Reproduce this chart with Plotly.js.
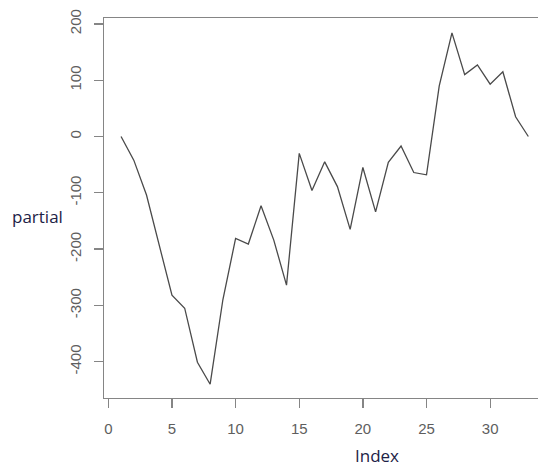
<!DOCTYPE html>
<html>
<head>
<meta charset="utf-8">
<script src="https://cdn.plot.ly/plotly-3.0.1.min.js"></script>
<style>html,body{margin:0;padding:0;background:#fff;}#chart{width:538px;height:466px;}</style>
</head>
<body>
<div id="chart"></div>
<script>
const index = [1,2,3,4,5,6,7,8,9,10,11,12,13,14,15,16,17,18,19,20,21,22,23,24,25,26,27,28,29,30,31,32,33];
const partial = [0,-42,-104,-193,-282,-305,-401,-440,-290,-181,-191,-123,-184,-264,-30,-96,-45,-89,-165,-55,-134,-46,-17,-64,-68,90,184,110,127,93,115,35,0];
const xTicks = [0,5,10,15,20,25,30];
const yTicks = [-400,-300,-200,-100,0,100,200];
const xLabel = "Index";
const yLabel = "partial";

const trace = {
  x: index, y: partial, type: 'scatter', mode: 'lines',
  line: {color: '#4a4a4a', width: 1.3},
  hoverinfo: 'skip', showlegend: false
};

const axisCommon = {
  showgrid: false, zeroline: false, showline: true,
  linecolor: '#858585', linewidth: 1.3,
  ticks: 'outside', ticklen: 9, tickwidth: 1.3, tickcolor: '#858585',
  tickfont: {family: 'Liberation Sans, Arial, sans-serif', size: 15, color: '#5e5e5e'},
  fixedrange: true
};

const layout = {
  width: 538, height: 466,
  margin: {l: 104, r: 0, t: 18, b: 68},
  paper_bgcolor: '#fff', plot_bgcolor: '#fff',
  xaxis: Object.assign({}, axisCommon, {
    range: [-0.34, 33.76], tickvals: xTicks, ticktext: xTicks.map(String),
    mirror: true, ticklabelstandoff: 8
  }),
  yaxis: Object.assign({}, axisCommon, {
    range: [-464.5, 210.5], tickvals: yTicks, ticktext: yTicks.map(String),
    tickangle: -90, mirror: false, ticklabelstandoff: 7
  }),
  annotations: [
    {text: yLabel, xref: 'paper', yref: 'paper', x: -0.2166, y: 0.478,
     xanchor: 'left', yanchor: 'middle', showarrow: false,
     font: {family: 'Open Sans, Noto Sans, sans-serif', size: 17, color: '#1d2246'}},
    {text: xLabel, xref: 'paper', yref: 'paper', x: 0.628, y: -0.152,
     xanchor: 'center', yanchor: 'middle', showarrow: false,
     font: {family: 'Open Sans, Noto Sans, sans-serif', size: 17, color: '#1d2246'}}
  ]
};

Plotly.newPlot('chart', [trace], layout, {displayModeBar: false, staticPlot: true});
</script>
</body>
</html>
